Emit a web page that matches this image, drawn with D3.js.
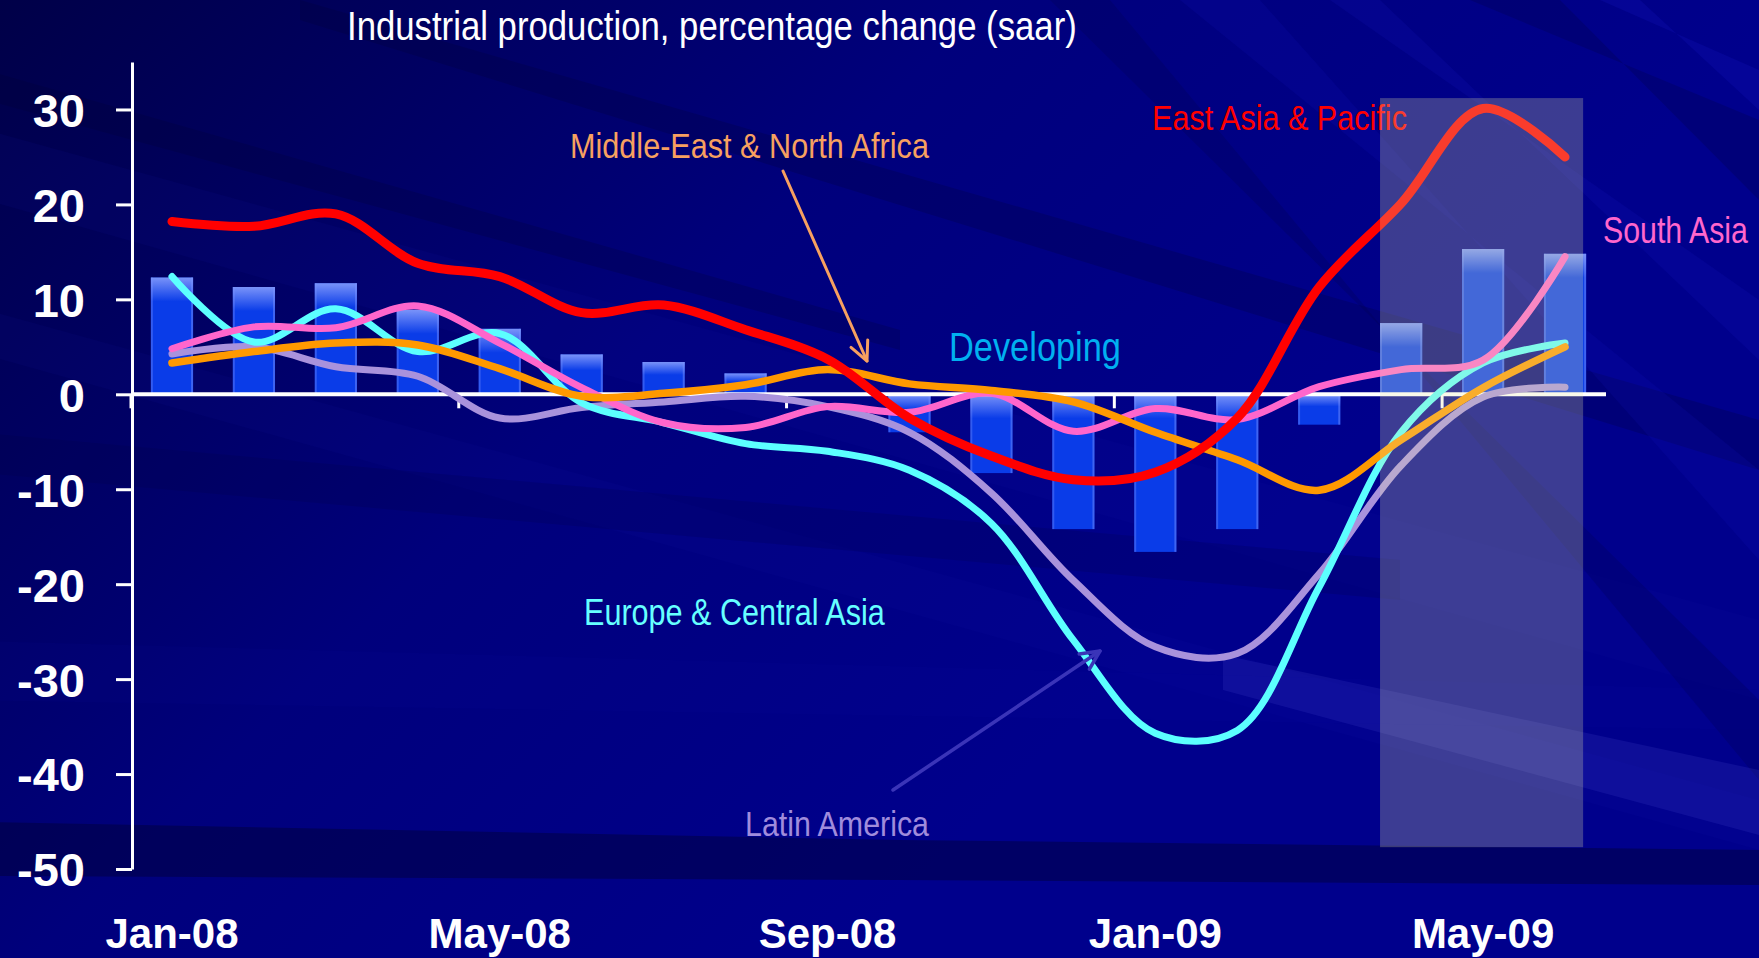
<!DOCTYPE html>
<html>
<head>
<meta charset="utf-8">
<script src="https://cdn.jsdelivr.net/npm/d3@7"></script>
<style>
  html, body { margin: 0; padding: 0; background: #00006e; overflow: hidden; }
  svg { display: block; }
</style>
</head>
<body>
<svg id="chart" width="1759" height="958"></svg>
<script>
// Monthly categories and axis labels
const months = ["Jan-08","Feb-08","Mar-08","Apr-08","May-08","Jun-08","Jul-08","Aug-08","Sep-08",
                "Oct-08","Nov-08","Dec-08","Jan-09","Feb-09","Mar-09","Apr-09","May-09","Jun-09"];
const xTickLabels = ["Jan-08","May-08","Sep-08","Jan-09","May-09"];
const yTickValues = [-50, -40, -30, -20, -10, 0, 10, 20, 30];
const highlightMonths = ["Apr-09", "Jun-09"];

// Industrial production, % change saar
const developing            = [12.3, 11.3, 11.7, 8.9, 6.9, 4.2, 3.4, 2.2, -0.1, -4.0, -8.3, -14.2, -16.6, -14.2, -3.2, 7.5, 15.3, 14.8];
const eastAsiaPacific       = [18.2, 17.7, 19.0, 13.8, 12.4, 8.6, 9.4, 6.8, 3.7, -2.5, -6.5, -9.0, -8.2, -2.5, 11.3, 20.1, 30.1, 25.0];
const europeCentralAsia     = [12.4, 5.5, 9.0, 4.5, 6.4, -0.9, -3.0, -5.2, -6.0, -8.0, -13.6, -25.9, -35.7, -35.4, -20.3, -4.0, 3.3, 5.4];
const latinAmerica          = [4.25, 5.0, 2.9, 1.9, -2.5, -1.4, -0.8, -0.2, -1.3, -4.0, -10.4, -19.6, -26.6, -27.3, -18.9, -7.5, -0.3, 0.75];
const middleEastNorthAfrica = [3.3, 4.5, 5.4, 5.2, 2.7, -0.2, 0.1, 1.0, 2.6, 1.1, 0.4, -0.8, -4.0, -6.9, -10.1, -4.8, 0.7, 5.0];
const southAsia             = [4.8, 7.1, 7.0, 9.3, 5.4, 0.7, -3.0, -3.5, -1.3, -1.9, 0.1, -3.9, -1.5, -2.65, 0.8, 2.6, 3.6, 14.5];

const seriesNames  = ["Latin America", "Europe & Central Asia", "South Asia", "Middle-East & North Africa", "East Asia & Pacific"];
const seriesValues = [latinAmerica, europeCentralAsia, southAsia, middleEastNorthAfrica, eastAsiaPacific];

const W = 1759, H = 958;
const svg = d3.select("#chart");
const defs = svg.append("defs");

// ---------- background ----------
const bg = defs.append("linearGradient").attr("id", "bgGrad")
  .attr("gradientUnits", "userSpaceOnUse").attr("x1", 0).attr("y1", 0).attr("x2", 900).attr("y2", 900);
bg.append("stop").attr("offset", 0).attr("stop-color", "#000048");
bg.append("stop").attr("offset", 0.55).attr("stop-color", "#00007c");
bg.append("stop").attr("offset", 1).attr("stop-color", "#00008c");
svg.append("rect").attr("width", W).attr("height", H).attr("fill", "url(#bgGrad)");

const deco = svg.append("g").attr("class", "backdrop");
// shallow diagonal bands across the left and middle
const shallowBands = [
  {p: [[-50, 120], [1759, 620], [1759, 700], [-50, 190]], c: "#1414a8", o: 0.10},
  {p: [[-50, 300], [1759, 800], [1759, 850], [-50, 345]], c: "#1818b0", o: 0.08},
  {p: [[-50, 430], [1400, 560], [1400, 600], [-50, 470]], c: "#000040", o: 0.18},
  {p: [[300, 0], [1759, 420], [1759, 470], [300, 20]], c: "#000030", o: 0.22},
  {p: [[-50, 60], [900, 330], [900, 350], [-50, 90]], c: "#000030", o: 0.22},
  {p: [[-50, 640], [1759, 690], [1759, 730], [-50, 700]], c: "#1414b0", o: 0.07}
];
shallowBands.forEach(b => deco.append("polygon")
  .attr("points", b.p.map(d => d.join(",")).join(" ")).attr("fill", b.c).attr("opacity", b.o));
// steep streaks towards the upper right
const steepBands = [
  {p: [[1180, 0], [1260, 0], [1759, 560], [1759, 470]], c: "#1818c8", o: 0.14},
  {p: [[1330, 0], [1380, 0], [1759, 360], [1759, 300]], c: "#1c1cd0", o: 0.14},
  {p: [[1470, 0], [1560, 0], [1759, 200], [1759, 120]], c: "#000050", o: 0.3},
  {p: [[1050, 0], [1110, 0], [1759, 780], [1759, 700]], c: "#000050", o: 0.25},
  {p: [[1600, 0], [1640, 0], [1759, 110], [1759, 70]], c: "#2020d8", o: 0.16}
];
steepBands.forEach(b => deco.append("polygon")
  .attr("points", b.p.map(d => d.join(",")).join(" ")).attr("fill", b.c).attr("opacity", b.o));
// faint light beam at the lower right
deco.append("polygon").attr("points", "1223,655 1759,770 1759,835 1223,690")
  .attr("fill", "#8080ff").attr("opacity", 0.11);
// darker horizontal band near the bottom
deco.append("polygon").attr("points", "-10,822 900,840 1759,850 1759,885 900,880 -10,876")
  .attr("fill", "#000035").attr("opacity", 0.45);

// ---------- scales ----------
const x = d3.scaleBand().domain(months).range([131, 1606]).paddingInner(0.485).paddingOuter(0.2425);
const xc = m => x(m) + x.bandwidth() / 2;
const y = d3.scaleLinear().domain([-50, 35]).range([869, 62]);

// ---------- developing bars ----------
const barTop = defs.append("linearGradient").attr("id", "barTop").attr("x1", 0).attr("y1", 0).attr("x2", 0).attr("y2", 1);
barTop.append("stop").attr("offset", 0).attr("stop-color", "#9fb0ff").attr("stop-opacity", 0.75);
barTop.append("stop").attr("offset", 1).attr("stop-color", "#9fb0ff").attr("stop-opacity", 0);

const barData = months.map((m, i) => ({m, v: developing[i]}));
const bars = svg.append("g").attr("class", "bars");
bars.selectAll("rect.bar").data(barData).join("rect").attr("class", "bar")
  .attr("x", d => x(d.m)).attr("width", x.bandwidth())
  .attr("y", d => y(Math.max(0, d.v))).attr("height", d => Math.abs(y(d.v) - y(0)))
  .attr("fill", "#0a3ce8");
bars.selectAll("rect.shine").data(barData).join("rect").attr("class", "shine")
  .attr("x", d => x(d.m)).attr("width", x.bandwidth())
  .attr("y", d => y(Math.max(0, d.v)))
  .attr("height", d => Math.min(24, Math.abs(y(d.v) - y(0)) * 0.4))
  .attr("fill", "url(#barTop)");
bars.selectAll("rect.edgeL").data(barData).join("rect").attr("class", "edgeL")
  .attr("x", d => x(d.m)).attr("width", 2)
  .attr("y", d => y(Math.max(0, d.v))).attr("height", d => Math.abs(y(d.v) - y(0)))
  .attr("fill", "#7f95ff").attr("opacity", 0.35);
bars.selectAll("rect.edgeR").data(barData).join("rect").attr("class", "edgeR")
  .attr("x", d => x(d.m) + x.bandwidth() - 2).attr("width", 2)
  .attr("y", d => y(Math.max(0, d.v))).attr("height", d => Math.abs(y(d.v) - y(0)))
  .attr("fill", "#7f95ff").attr("opacity", 0.45);

// ---------- axes ----------
const yAxis = d3.axisLeft(y).tickValues(yTickValues).tickSize(16).tickSizeOuter(0).tickPadding(31)
  .tickFormat(d => String(d));
const gy = svg.append("g").attr("transform", "translate(132,0)").call(yAxis);
gy.select(".domain").attr("stroke", "#ffffff").attr("stroke-width", 3);
gy.selectAll(".tick line").attr("stroke", "#ffffff").attr("stroke-width", 3);
gy.selectAll(".tick text").attr("fill", "#ffffff")
  .style("font-family", "'Liberation Sans', Arial, sans-serif").style("font-weight", "bold")
  .style("font-size", "47px").attr("dy", "0.36em");

// zero line with short ticks every four months
svg.append("line").attr("x1", x.range()[0]).attr("x2", x.range()[1])
  .attr("y1", y(0)).attr("y2", y(0)).attr("stroke", "#ffffff").attr("stroke-width", 4);
const boundaryTicks = xTickLabels.map(m => x(m) - x.step() * x.paddingInner() / 2);
svg.append("g").selectAll("line").data(boundaryTicks).join("line")
  .attr("x1", d => d).attr("x2", d => d).attr("y1", y(0)).attr("y2", y(0) + 14)
  .attr("stroke", "#ffffff").attr("stroke-width", 3);

const xAxis = d3.axisBottom(x).tickValues(xTickLabels).tickSize(0).tickPadding(0);
const gx = svg.append("g").attr("transform", "translate(0,933)").call(xAxis);
gx.select(".domain").remove();
gx.selectAll(".tick text").attr("fill", "#ffffff").attr("dy", "0.35em")
  .style("font-family", "'Liberation Sans', Arial, sans-serif").style("font-weight", "bold")
  .style("font-size", "42px");

// ---------- regional lines ----------
const lineColors  = ["#a992dc", "#5cffff", "#ff66cc", "#ff9900", "#ff0000"];
const lineWidths  = [7, 7, 7, 7.5, 9];
const line = d3.line().x((d, i) => xc(months[i])).y(d => y(d)).curve(d3.curveCatmullRom.alpha(0.5));
const lines = svg.append("g").attr("class", "lines").attr("fill", "none")
  .attr("stroke-linecap", "round").attr("stroke-linejoin", "round");
seriesValues.forEach((vals, k) => {
  lines.append("path").datum(vals).attr("d", line)
    .attr("stroke", lineColors[k]).attr("stroke-width", lineWidths[k])
    .attr("data-series", seriesNames[k]);
});

// ---------- titles and annotations (condensed lettering) ----------
// The text is squeezed horizontally with a transform so that it spans the given width.
function label(txt, px, py, size, color, width) {
  const g = svg.append("g");
  const t = g.append("text").attr("x", 0).attr("y", 0).text(txt)
    .attr("fill", color).style("font-family", "'Liberation Sans', Arial, sans-serif")
    .style("font-size", size + "px");
  const natural = t.node().getComputedTextLength();
  g.attr("transform", `translate(${px},${py}) scale(${width / natural},1)`);
  return g;
}
label("Industrial production, percentage change (saar)", 347, 40, 40, "#ffffff", 730);
label("Middle-East & North Africa", 570, 158, 35, "#f7a060", 359);
label("East Asia & Pacific", 1152, 130, 35, "#ff0000", 255);
label("South Asia", 1603, 243, 36, "#ff66cc", 145);
label("Developing", 949, 361, 41, "#00b0f0", 172);
label("Europe & Central Asia", 584, 625, 36, "#66ffff", 301);
label("Latin America", 745, 836, 36, "#a08cdc", 184);

function arrow(x1, y1, x2, y2, color, width) {
  const g = svg.append("g").attr("stroke", color).attr("stroke-width", width)
    .attr("fill", "none").attr("stroke-linecap", "round").attr("stroke-linejoin", "round");
  g.append("line").attr("x1", x1).attr("y1", y1).attr("x2", x2).attr("y2", y2);
  const a = Math.atan2(y2 - y1, x2 - x1), L = 21, s = 0.45;
  g.append("polyline").attr("points", [
    [x2 - L * Math.cos(a - s), y2 - L * Math.sin(a - s)], [x2, y2],
    [x2 - L * Math.cos(a + s), y2 - L * Math.sin(a + s)]].map(p => p.join(",")).join(" "));
}
arrow(783, 171, 867, 361, "#f7a060", 3);
arrow(893, 790, 1100, 651, "#3a34b8", 3.5);

// ---------- highlighted recent months ----------
svg.append("rect")
  .attr("x", x(highlightMonths[0]))
  .attr("width", x(highlightMonths[1]) - x(highlightMonths[0]) + x.bandwidth() - 3)
  .attr("y", y(31.2)).attr("height", y(-47.7) - y(31.2))
  .attr("fill", "rgb(230,230,170)").attr("opacity", 0.26);
</script>
</body>
</html>
